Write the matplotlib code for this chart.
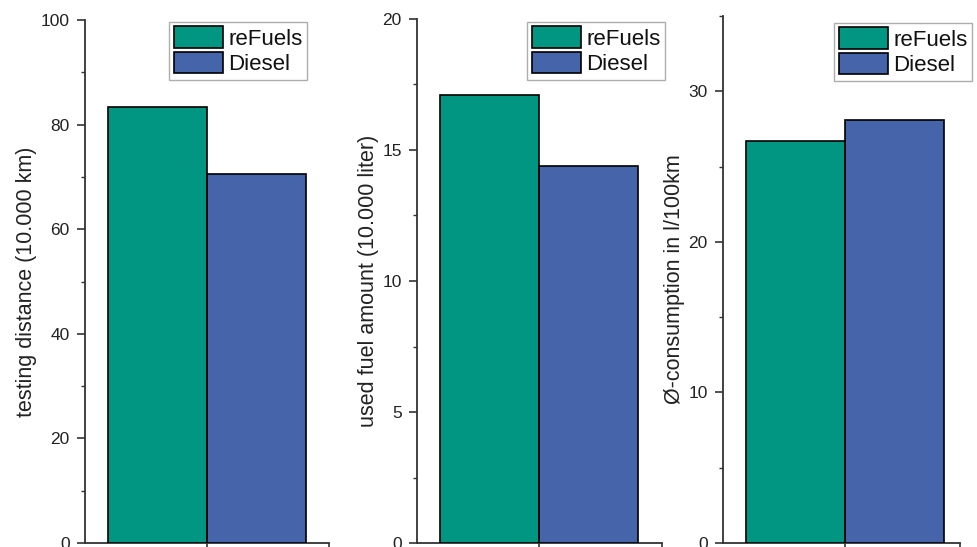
import matplotlib
matplotlib.use("Agg")
import matplotlib.pyplot as plt
from matplotlib.ticker import MultipleLocator, FixedLocator
from matplotlib.patches import Patch

plt.rcParams['font.family'] = ['Liberation Sans', 'DejaVu Sans']

series = ["reFuels", "Diesel"]
colors = ["#009682", "#4664AA"]

distance = [83.4, 70.6]      # 10.000 km
fuel = [17.1, 14.4]          # 10.000 liter
consumption = [26.7, 28.1]   # l/100km

ylabels = ["testing distance (10.000 km)", "used fuel amount (10.000 liter)",
           "Ø-consumption in l/100km"]
ylims = [100, 20, 35]
majors = [20, 5, 10]
minors = [10, 2.5, 5]

fig = plt.figure(figsize=(9.77, 5.47), dpi=100)

# axes rectangles in figure pixels: (left, right, top)
rects = [(85, 329, 20), (417, 662, 19), (723, 960, 16)]
legend_right = [307, 665, 972]
legend_top = [22, 22, 23]
bar_px = 98.8
bottom_px = 543
W, H = 977, 547

data = [distance, fuel, consumption]
for i, (vals, (l, r, t)) in enumerate(zip(data, rects)):
    ax = fig.add_axes([l / W, 1 - bottom_px / H, (r - l) / W, (bottom_px - t) / H])
    x = [0, 1]
    ax.bar(x, vals, width=1.0, color=colors, edgecolor="black", linewidth=1.2, zorder=3)
    left_pad = 23 / bar_px
    right_pad = (r - l - 23 - 2 * bar_px) / bar_px
    ax.set_xlim(-0.5 - left_pad, 1.5 + right_pad)
    ax.set_ylim(0, ylims[i])
    ax.yaxis.set_major_locator(MultipleLocator(majors[i]))
    ax.yaxis.set_minor_locator(MultipleLocator(minors[i]))
    ax.xaxis.set_major_locator(FixedLocator([0.5, 1.5 + right_pad]))
    ax.set_xticklabels([])
    for s in ["top", "right"]:
        ax.spines[s].set_visible(False)
    for s in ["left", "bottom"]:
        ax.spines[s].set_linewidth(1.3)
        ax.spines[s].set_color("#333333")
    ax.tick_params(axis="y", which="major", direction="out", length=6, width=1.2,
                   labelsize=12.5, colors="#333333", labelcolor="#222222", pad=5)
    ax.tick_params(axis="y", which="minor", direction="out", length=3, width=1.0,
                   colors="#333333")
    ax.tick_params(axis="x", which="major", direction="out", length=5, width=1.2,
                   colors="#333333")
    ax.set_ylabel(ylabels[i], fontsize=15.5, color="#222222", labelpad=2.5)
    handles = [Patch(facecolor=c, edgecolor="black", linewidth=1.2) for c in colors]
    leg = ax.legend(handles, series, loc="upper right",
                    bbox_to_anchor=((legend_right[i] - l) / (r - l),
                                    (bottom_px - legend_top[i]) / (bottom_px - t)),
                    fontsize=16, frameon=True, fancybox=False,
                    handlelength=2.2, handleheight=1.1, labelspacing=0.1,
                    handletextpad=0.25, borderpad=0.2, borderaxespad=0)
    leg.get_frame().set_edgecolor("#999999")
    leg.get_frame().set_linewidth(1.0)
    for txt in leg.get_texts():
        txt.set_color("#111111")

fig.savefig("out.png", dpi=100)
